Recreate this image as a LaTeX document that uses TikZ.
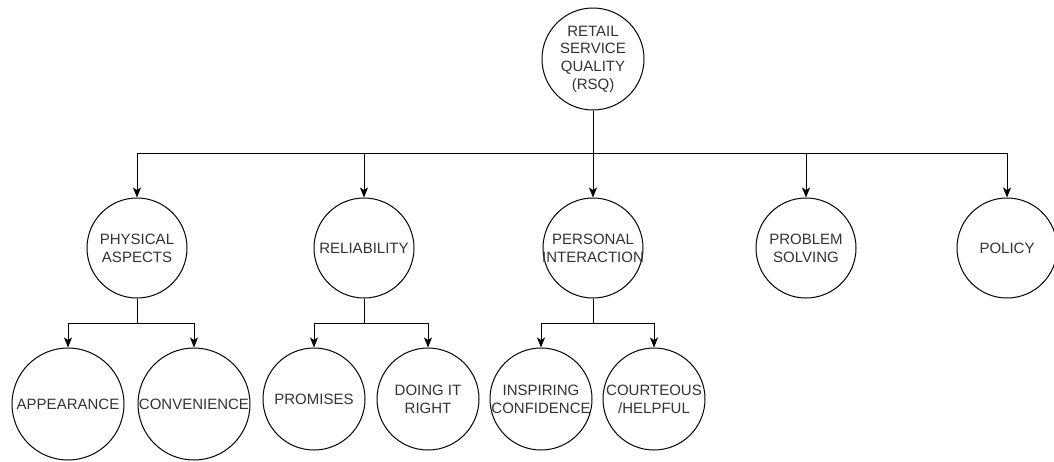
\documentclass[tikz,border=0pt]{standalone}
\usepackage{fontspec}
\setmainfont{Liberation Sans}
\usetikzlibrary{arrows.meta}
\begin{document}
\begin{tikzpicture}[x=1pt,y=-1pt,
  circ/.style={circle,draw=black,line width=1pt,fill=white,inner sep=0pt},
  lvla/.style={circ,minimum size=102pt},
  lvlb/.style={circ,minimum size=100pt},
  lvlc/.style={circ,minimum size=102pt},
  lvlw/.style={circ,minimum size=112pt},
  txt/.style={align=center,inner sep=0pt,text=black!80,font=\fontsize{15}{17.7}\selectfont},
  arr/.style={draw=black,line width=1pt,-{Stealth[length=10pt,width=8pt,inset=2.5pt]}}]
\useasboundingbox (0,0) rectangle (1054,461);

% root
\node[lvla] (rsq) at (593,59) {};
\node[txt] (rsq-t) at (rsq) {RETAIL\\SERVICE\\QUALITY\\(RSQ)};

% first level
\node[lvlb] (pa)  at (137,248) {};
\node[lvlb] (rel) at (364,248) {};
\node[lvlb] (pi)  at (593,248) {};
\node[lvlb] (ps)  at (806,248) {};
\node[lvlb] (pol) at (1007,248) {};
\node[txt] (pa-t)  at (pa)  {PHYSICAL\\ASPECTS};
\node[txt] (rel-t) at (rel) {RELIABILITY};
\node[txt] (pi-t)  at (pi)  {PERSONAL\\INTERACTION};
\node[txt] (ps-t)  at (ps)  {PROBLEM\\SOLVING};
\node[txt] (pol-t) at (pol) {POLICY};

% second level
\node[lvlw] (app)  at (68,404)  {};
\node[lvlw] (conv) at (194,404) {};
\node[lvlc] (prom) at (314,399) {};
\node[lvlc] (dir)  at (428,399) {};
\node[lvlc] (insp) at (541,399) {};
\node[lvlc] (cour) at (654,399) {};
\node[txt] (app-t)  at (app)  {APPEARANCE};
\node[txt] (conv-t) at (conv) {CONVENIENCE};
\node[txt] (prom-t) at (prom) {PROMISES};
\node[txt] (dir-t)  at (dir)  {DOING IT\\RIGHT};
\node[txt] (insp-t) at (insp) {INSPIRING\\CONFIDENCE};
\node[txt] (cour-t) at (cour) {COURTEOUS\\/HELPFUL};

% root to first level
\draw[arr] (rsq.south) -- ++(0,43) -| (pa.north);
\draw[arr] (rsq.south) -- ++(0,43) -| (rel.north);
\draw[arr] (rsq.south) -- (pi.north);
\draw[arr] (rsq.south) -- ++(0,43) -| (ps.north);
\draw[arr] (rsq.south) -- ++(0,43) -| (pol.north);

% first level to second level
\draw[arr] (pa.south) -- ++(0,25) -| (app.north);
\draw[arr] (pa.south) -- ++(0,25) -| (conv.north);
\draw[arr] (rel.south) -- ++(0,25) -| (prom.north);
\draw[arr] (rel.south) -- ++(0,25) -| (dir.north);
\draw[arr] (pi.south) -- ++(0,25) -| (insp.north);
\draw[arr] (pi.south) -- ++(0,25) -| (cour.north);
\end{tikzpicture}
\end{document}
